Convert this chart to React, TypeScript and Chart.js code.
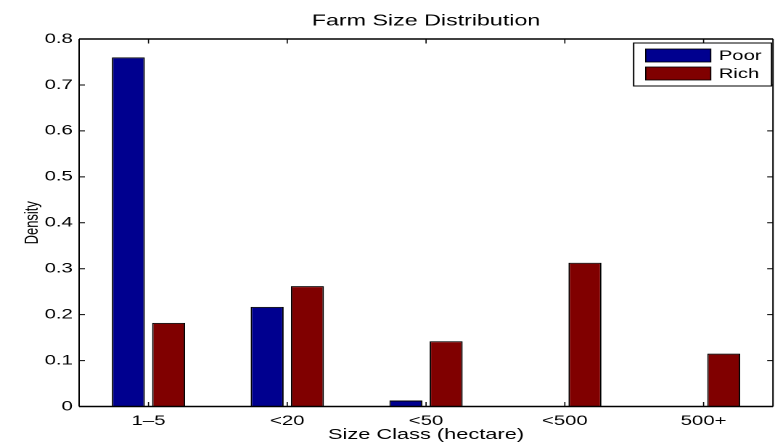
import React, { useEffect, useRef } from "react";
import { Chart, registerables } from "chart.js";

Chart.register(...registerables);

// ---- data ----
const categories = ["1–5", "<20", "<50", "<500", "500+"];
const poorValues = [0.76, 0.217, 0.013, 0.001, 0.001];
const richValues = [0.182, 0.262, 0.142, 0.313, 0.115];
const seriesNames = ["Poor", "Rich"];
const seriesColors = ["#00008F", "#800000"];
const yMin = 0;
const yMax = 0.8;
const yStep = 0.1;
const titleText = "Farm Size Distribution";
const xTitle = "Size Class (hectare)";
const yTitle = "Density";

// ---- layout (the reference is horizontally stretched) ----
const OUT_W = 775;
const OUT_H = 444;
const NAT_W = 534;
const FONT = "'Liberation Sans', Arial, Helvetica, sans-serif";

const framePlugin = {
  id: "matlabFrame",
  afterDraw(chart: any) {
    const { ctx, chartArea, scales } = chart;
    const { left, right, top, bottom } = chartArea;
    ctx.save();
    ctx.strokeStyle = "#000";
    ctx.lineWidth = 1.4;
    ctx.beginPath();
    ctx.moveTo(left, top);
    ctx.lineTo(right, top);
    ctx.moveTo(left, bottom);
    ctx.lineTo(right, bottom);
    ctx.stroke();
    ctx.lineWidth = 1;
    ctx.beginPath();
    ctx.moveTo(left, top);
    ctx.lineTo(left, bottom);
    ctx.moveTo(right, top);
    ctx.lineTo(right, bottom);
    ctx.stroke();
    ctx.lineWidth = 1;
    ctx.beginPath();
    scales.y.ticks.forEach((t: any) => {
      const y = scales.y.getPixelForValue(t.value);
      ctx.moveTo(left, y);
      ctx.lineTo(left + 4, y);
      ctx.moveTo(right, y);
      ctx.lineTo(right - 4, y);
    });
    ctx.stroke();
    ctx.lineWidth = 0.8;
    ctx.beginPath();
    categories.forEach((_c, i) => {
      const x = scales.x.getPixelForValue(i);
      ctx.moveTo(x, bottom);
      ctx.lineTo(x, bottom - 4.5);
      ctx.moveTo(x, top);
      ctx.lineTo(x, top + 4.5);
    });
    ctx.stroke();

    // legend box
    const bw = 95;
    const bh = 43;
    const bx = right - 1 - bw;
    const by = top + 4;
    ctx.fillStyle = "#fff";
    ctx.fillRect(bx, by, bw, bh);
    ctx.lineWidth = 1;
    ctx.strokeRect(bx, by, bw, bh);
    chart.data.datasets.forEach((ds: any, i: number) => {
      const cy = by + 12.5 + i * 18;
      ctx.fillStyle = ds.backgroundColor;
      ctx.fillRect(bx + 8.3, cy - 6.5, 44.8, 13);
      ctx.strokeStyle = "#000";
      ctx.lineWidth = 0.8;
      ctx.strokeRect(bx + 8.3, cy - 6.5, 44.8, 13);
      ctx.fillStyle = "#000";
      ctx.font = `14px ${FONT}`;
      ctx.textAlign = "left";
      ctx.textBaseline = "middle";
      ctx.fillText(ds.label, bx + 58.6, cy + 0.5);
    });
    ctx.restore();
  },
};

export default function App() {
  const ref = useRef<HTMLCanvasElement | null>(null);

  useEffect(() => {
    document.body.style.margin = "0";
    const canvas = ref.current;
    if (!canvas) return;
    const chart = new Chart(canvas, {
      type: "bar",
      data: {
        labels: categories,
        datasets: [
          {
            label: seriesNames[0],
            data: poorValues,
            backgroundColor: seriesColors[0],
            borderColor: "#000",
            borderWidth: 1,
            categoryPercentage: 0.58,
            barPercentage: 0.82,
          },
          {
            label: seriesNames[1],
            data: richValues,
            backgroundColor: seriesColors[1],
            borderColor: "#000",
            borderWidth: 1,
            categoryPercentage: 0.58,
            barPercentage: 0.82,
          },
        ],
      },
      options: {
        animation: false,
        responsive: false,
        devicePixelRatio: 2,
        layout: { padding: { left: 0, right: 1.4, top: 0, bottom: 0 } },
        plugins: {
          legend: { display: false },
          tooltip: { enabled: false },
          title: {
            display: true,
            text: titleText,
            fullSize: false,
            color: "#000",
            font: { family: FONT, size: 16, weight: "normal" },
            padding: { top: 11.4, bottom: 8.4 },
          },
        },
        scales: {
          x: {
            type: "category",
            grid: { display: false, drawTicks: false },
            border: { display: false },
            ticks: {
              color: "#000",
              font: { family: FONT, size: 14 },
              padding: 6,
              maxRotation: 0,
              autoSkip: false,
            },
            title: {
              display: true,
              text: xTitle,
              color: "#000",
              font: { family: FONT, size: 15 },
              padding: { top: 0, bottom: 0 },
            },
            afterFit: (s: any) => {
              s.height = 37.5;
            },
          },
          y: {
            min: yMin,
            max: yMax,
            grid: { display: false, drawTicks: false },
            border: { display: false },
            ticks: {
              stepSize: yStep,
              color: "#000",
              font: { family: FONT, size: 14 },
              padding: 4.3,
            },
            title: {
              display: true,
              text: yTitle,
              color: "#000",
              font: { family: FONT, size: 13 },
              padding: { top: 14.5, bottom: 0 },
            },
            afterFit: (s: any) => {
              s.width = 54.5;
            },
          },
        },
      },
      plugins: [framePlugin],
    });
    return () => chart.destroy();
  }, []);

  return (
    <div
      style={{
        position: "absolute",
        left: 0,
        top: 0,
        width: OUT_W,
        height: OUT_H,
        overflow: "hidden",
        background: "#fff",
      }}
    >
      <div
        style={{
          width: NAT_W,
          height: OUT_H,
          transform: `scaleX(${OUT_W / NAT_W})`,
          transformOrigin: "0 0",
        }}
      >
        <canvas ref={ref} width={NAT_W} height={OUT_H} />
      </div>
    </div>
  );
}
